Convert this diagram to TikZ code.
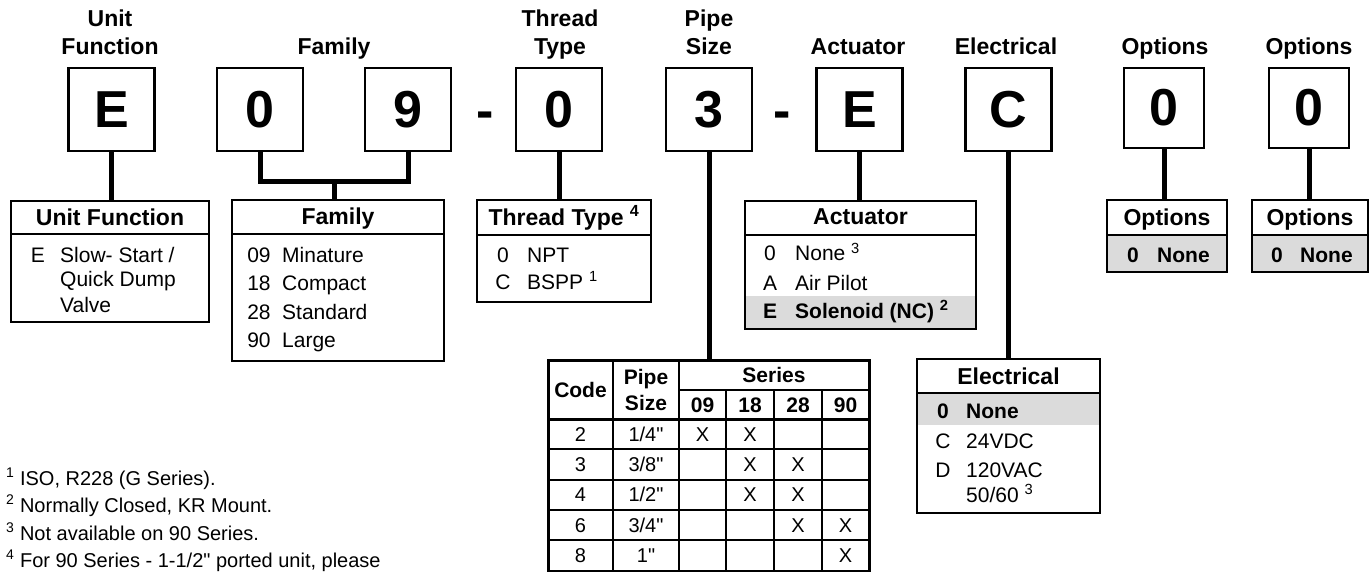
\documentclass[tikz,border=0pt]{standalone}
\usepackage{fontspec}
\setmainfont{Liberation Sans}
\usetikzlibrary{backgrounds}

\newcommand\hdfont{\fontsize{23}{28}\selectfont\bfseries}
\newcommand\bdfont{\fontsize{21}{28}\selectfont}
\newcommand\bigfont{\fontsize{52}{60}\selectfont\bfseries}
\newcommand\tbfont{\fontsize{20}{24}\selectfont}
\newcommand\tbhfont{\fontsize{21}{26}\selectfont\bfseries}
\newcommand\fnfont{\fontsize{20}{27}\selectfont}

\begin{document}
\begin{tikzpicture}[x=1pt, y=-1pt,
    letterbox/.style={draw, line width=2.5pt, minimum width=86pt, minimum height=83pt, inner sep=0pt, outer sep=0pt, font=\bigfont},
    optbox/.style={letterbox, minimum width=80pt, minimum height=80pt},
    dashmark/.style={anchor=base, inner sep=0pt, font=\bigfont},
    headtxt/.style={inner sep=0pt, font=\hdfont},
    infobox/.style={draw, line width=2.5pt, anchor=north west, inner sep=0pt, outer sep=0pt},
    sepline/.style={line width=2.5pt},
    conn/.style={line width=5pt},
    codetxt/.style={anchor=base, inner sep=0pt, font=\bdfont},
    itemtxt/.style={anchor=base west, inner sep=0pt, font=\bdfont},
    greyrow/.style={fill=black!14},
    tabline/.style={line width=2pt},
    tabhead/.style={inner sep=0pt, font=\tbhfont},
    tabtxt/.style={anchor=base, inner sep=0pt, font=\tbfont}]
            \useasboundingbox (0,0) rectangle (1371,572);
            % ==== TOP HEADINGS ====
            \node[headtxt, anchor=north, align=center] (tUnit) at (110,10) {Unit\\Function};
            \node[headtxt, anchor=base] (tFam) at (334,55) {Family};
            \node[headtxt, anchor=north, align=center] (tThr) at (560,10) {Thread\\Type};
            \node[headtxt, anchor=north, align=center] (tPipe) at (709,10) {Pipe\\Size};
            \node[headtxt, anchor=base] (tAct) at (858,55) {Actuator};
            \node[headtxt, anchor=base] (tElec) at (1006,55) {Electrical};
            \node[headtxt, anchor=base] (tOptA) at (1165,55) {Options};
            \node[headtxt, anchor=base] (tOptB) at (1309,55) {Options};

            % ==== CODE LETTERS ====
            \node[letterbox] (lUnit) at (111.5,109.5) {E};
            \node[letterbox] (lFamA) at (260,109.5) {0};
            \node[letterbox] (lFamB) at (408,109.5) {9};
            \node[dashmark] (dashA) at (485,128.5) {-};
            \node[letterbox] (lThr) at (559,109.5) {0};
            \node[letterbox] (lPipe) at (709,109.5) {3};
            \node[dashmark] (dashB) at (782,128.5) {-};
            \node[letterbox] (lAct) at (859.5,109.5) {E};
            \node[letterbox] (lElec) at (1008.5,109.5) {C};
            \node[optbox] (lOptA) at (1164,108) {0};
            \node[optbox] (lOptB) at (1309,108) {0};

            % ==== UNIT FUNCTION ====
            \node[infobox, minimum width=198pt, minimum height=121pt] (bUnit) at (11,201) {};
            \draw[sepline] ([yshift=-33pt]bUnit.north west) -- ([yshift=-33pt]bUnit.north east);
            \node[headtxt, anchor=base] (hUnit) at ([yshift=-25pt]bUnit.north) {Unit Function};
            \node[codetxt] (uE) at (38,262) {E};
            \node[itemtxt] (uA) at (60,262) {Slow- Start /};
            \node[itemtxt] (uB) at (60,287) {Quick Dump};
            \node[itemtxt] (uC) at (60,312) {Valve};

            % ==== FAMILY ====
            \node[infobox, minimum width=212pt, minimum height=161pt] (bFam) at (232,200) {};
            \draw[sepline] ([yshift=-34pt]bFam.north west) -- ([yshift=-34pt]bFam.north east);
            \node[headtxt, anchor=base] (hFam) at ([yshift=-25pt]bFam.north) {Family};
            \foreach \c/\t/\y in {09/Minature/262, 18/Compact/290.5, 28/Standard/319, 90/Large/347}{
                \node[codetxt] (fc\c) at (259,\y) {\c};
                \node[itemtxt] (ft\c) at (282,\y) {\t};
            }

            % ==== THREAD TYPE ====
            \node[infobox, minimum width=174pt, minimum height=102pt] (bThr) at (477,200) {};
            \draw[sepline] ([yshift=-35pt]bThr.north west) -- ([yshift=-35pt]bThr.north east);
            \node[headtxt, anchor=base] (hThr) at ([yshift=-26pt]bThr.north) {Thread Type \textsuperscript{4}};
            \node[codetxt] (thA) at (503,262) {0};
            \node[itemtxt] (thB) at (527,262) {NPT};
            \node[codetxt] (thC) at (503,289) {C};
            \node[itemtxt] (thD) at (527,289) {BSPP \textsuperscript{1}};

            % ==== ACTUATOR ====
            \node[infobox, minimum width=231pt, minimum height=128pt] (bAct) at (745,201) {};
            \draw[sepline] ([yshift=-34pt]bAct.north west) -- ([yshift=-34pt]bAct.north east);
            \node[headtxt, anchor=base] (hAct) at ([yshift=-24pt]bAct.north) {Actuator};
            \node[codetxt] (acA) at (770,261) {0};
            \node[itemtxt] (atA) at (795,261) {None \textsuperscript{3}};
            \node[codetxt] (acB) at (770,290) {A};
            \node[itemtxt] (atB) at (795,290) {Air Pilot};
            \node[codetxt] (acC) at (770,318) {\bfseries E};
            \node[itemtxt] (atC) at (795,318) {\bfseries Solenoid (NC) \textsuperscript{2}};

            % ==== ELECTRICAL ====
            \node[infobox, minimum width=183pt, minimum height=154pt] (bElec) at (917,359) {};
            \draw[sepline] ([yshift=-34pt]bElec.north west) -- ([yshift=-34pt]bElec.north east);
            \node[headtxt, anchor=base] (hElec) at ([yshift=-25pt]bElec.north) {Electrical};
            \node[codetxt] (ecA) at (943,418) {\bfseries 0};
            \node[itemtxt] (etA) at (966,418) {\bfseries None};
            \node[codetxt] (ecB) at (943,448) {C};
            \node[itemtxt] (etB) at (966,448) {24VDC};
            \node[codetxt] (ecC) at (943,477) {D};
            \node[itemtxt] (etC) at (966,477) {120VAC};
            \node[itemtxt] (etD) at (966,502) {50/60 \textsuperscript{3}};

            % ==== OPTIONS ====
            \node[infobox, minimum width=120pt, minimum height=72pt] (bOptA) at (1107,200) {};
            \draw[sepline] ([yshift=-35pt]bOptA.north west) -- ([yshift=-35pt]bOptA.north east);
            \node[headtxt, anchor=base] (hOptA) at ([yshift=-26pt]bOptA.north) {Options};
            \node[codetxt] (ocA) at (1133,262) {\bfseries 0};
            \node[itemtxt] (otA) at (1157,262) {\bfseries None};
            \node[infobox, minimum width=116pt, minimum height=72pt] (bOptB) at (1252,200) {};
            \draw[sepline] ([yshift=-35pt]bOptB.north west) -- ([yshift=-35pt]bOptB.north east);
            \node[headtxt, anchor=base] (hOptB) at ([yshift=-26pt]bOptB.north) {Options};
            \node[codetxt] (ocB) at (1277,262) {\bfseries 0};
            \node[itemtxt] (otB) at (1300,262) {\bfseries None};

            % ==== GREY ROWS ====
            \begin{scope}[on background layer]
                \fill[greyrow] ([yshift=33pt]bAct.south west) rectangle (bAct.south east);
                \fill[greyrow] ([yshift=-34pt]bElec.north west) rectangle ([yshift=-66pt]bElec.north east);
                \fill[greyrow] ([yshift=-35pt]bOptA.north west) rectangle (bOptA.south east);
                \fill[greyrow] ([yshift=-35pt]bOptB.north west) rectangle (bOptB.south east);
            \end{scope}

            % ==== PIPE SIZE TABLE ====
            \node[draw, line width=3pt, outer sep=0pt, inner sep=0pt, anchor=north west,
                minimum width=321pt, minimum height=211pt] (tab) at (548,360) {};
            \foreach \y in {449,480,510,540}
                \draw[tabline] (548,\y) -- (869,\y);
            \draw[line width=3pt] (548,419) -- (869,419);
            \draw[tabline] (679,390) -- (869,390);
            \foreach \x in {613,679}
                \draw[tabline] (\x,360) -- (\x,571);
            \foreach \x in {726,774,822}
                \draw[tabline] (\x,390) -- (\x,571);
            \node[tabhead] (hCode) at (580.5,390) {Code};
            \node[tabhead, align=center] (hSize) at (646,390) {Pipe\\Size};
            \node[tabhead] (hSeries) at (774,375) {Series};
            \foreach \s/\x in {09/702.5, 18/750, 28/798, 90/845.5}
                \node[tabhead] (hs\s) at (\x,405) {\s};
            \foreach \c/\p [count=\i] in {2/{1/4}, 3/{3/8}, 4/{1/2}, 6/{3/4}, 8/{1}}{
                \pgfmathsetmacro\yb{410.6+30.4*\i}
                \node[tabtxt] (code\c) at (580.5,\yb) {\c};
                \node[tabtxt] (size\c) at (646,\yb) {\p\textquotedbl};
            }
            \foreach \x/\r [count=\k] in {702.5/1, 750/1, 750/2, 798/2, 750/3, 798/3, 798/4, 845.5/4, 845.5/5}{
                \pgfmathsetmacro\yb{410.6+30.4*\r}
                \node[tabtxt] (mark\k) at (\x,\yb) {X};
            }

            % ==== CONNECTORS ====
            \coordinate (famJoin) at (334,182);
            \draw[conn] (lUnit.south) -- (lUnit.south |- bUnit.north);
            \draw[conn] (lFamA.south) |- (famJoin) -| (lFamB.south);
            \draw[conn] (famJoin) -- (famJoin |- bFam.north);
            \draw[conn] (lThr.south) -- (lThr.south |- bThr.north);
            \draw[conn] (lPipe.south) -- (lPipe.south |- tab.north);
            \draw[conn] (lAct.south) -- (lAct.south |- bAct.north);
            \draw[conn] (lElec.south) -- (lElec.south |- bElec.north);
            \draw[conn] (lOptA.south) -- (lOptA.south |- bOptA.north);
            \draw[conn] (lOptB.south) -- (lOptB.south |- bOptB.north);

            % ==== FOOTNOTES ====
            \node[itemtxt, font=\fnfont] (fnA) at (6,485) {\textsuperscript{1} ISO, R228 (G Series).};
            \node[itemtxt, font=\fnfont] (fnB) at (6,512) {\textsuperscript{2} Normally Closed, KR Mount.};
            \node[itemtxt, font=\fnfont] (fnC) at (6,540) {\textsuperscript{3} Not available on 90 Series.};
            \node[itemtxt, font=\fnfont] (fnD) at (6,567) {\textsuperscript{4} For 90 Series - 1-1/2\textquotedbl{} ported unit, please};
         \end{tikzpicture}
\end{document}
